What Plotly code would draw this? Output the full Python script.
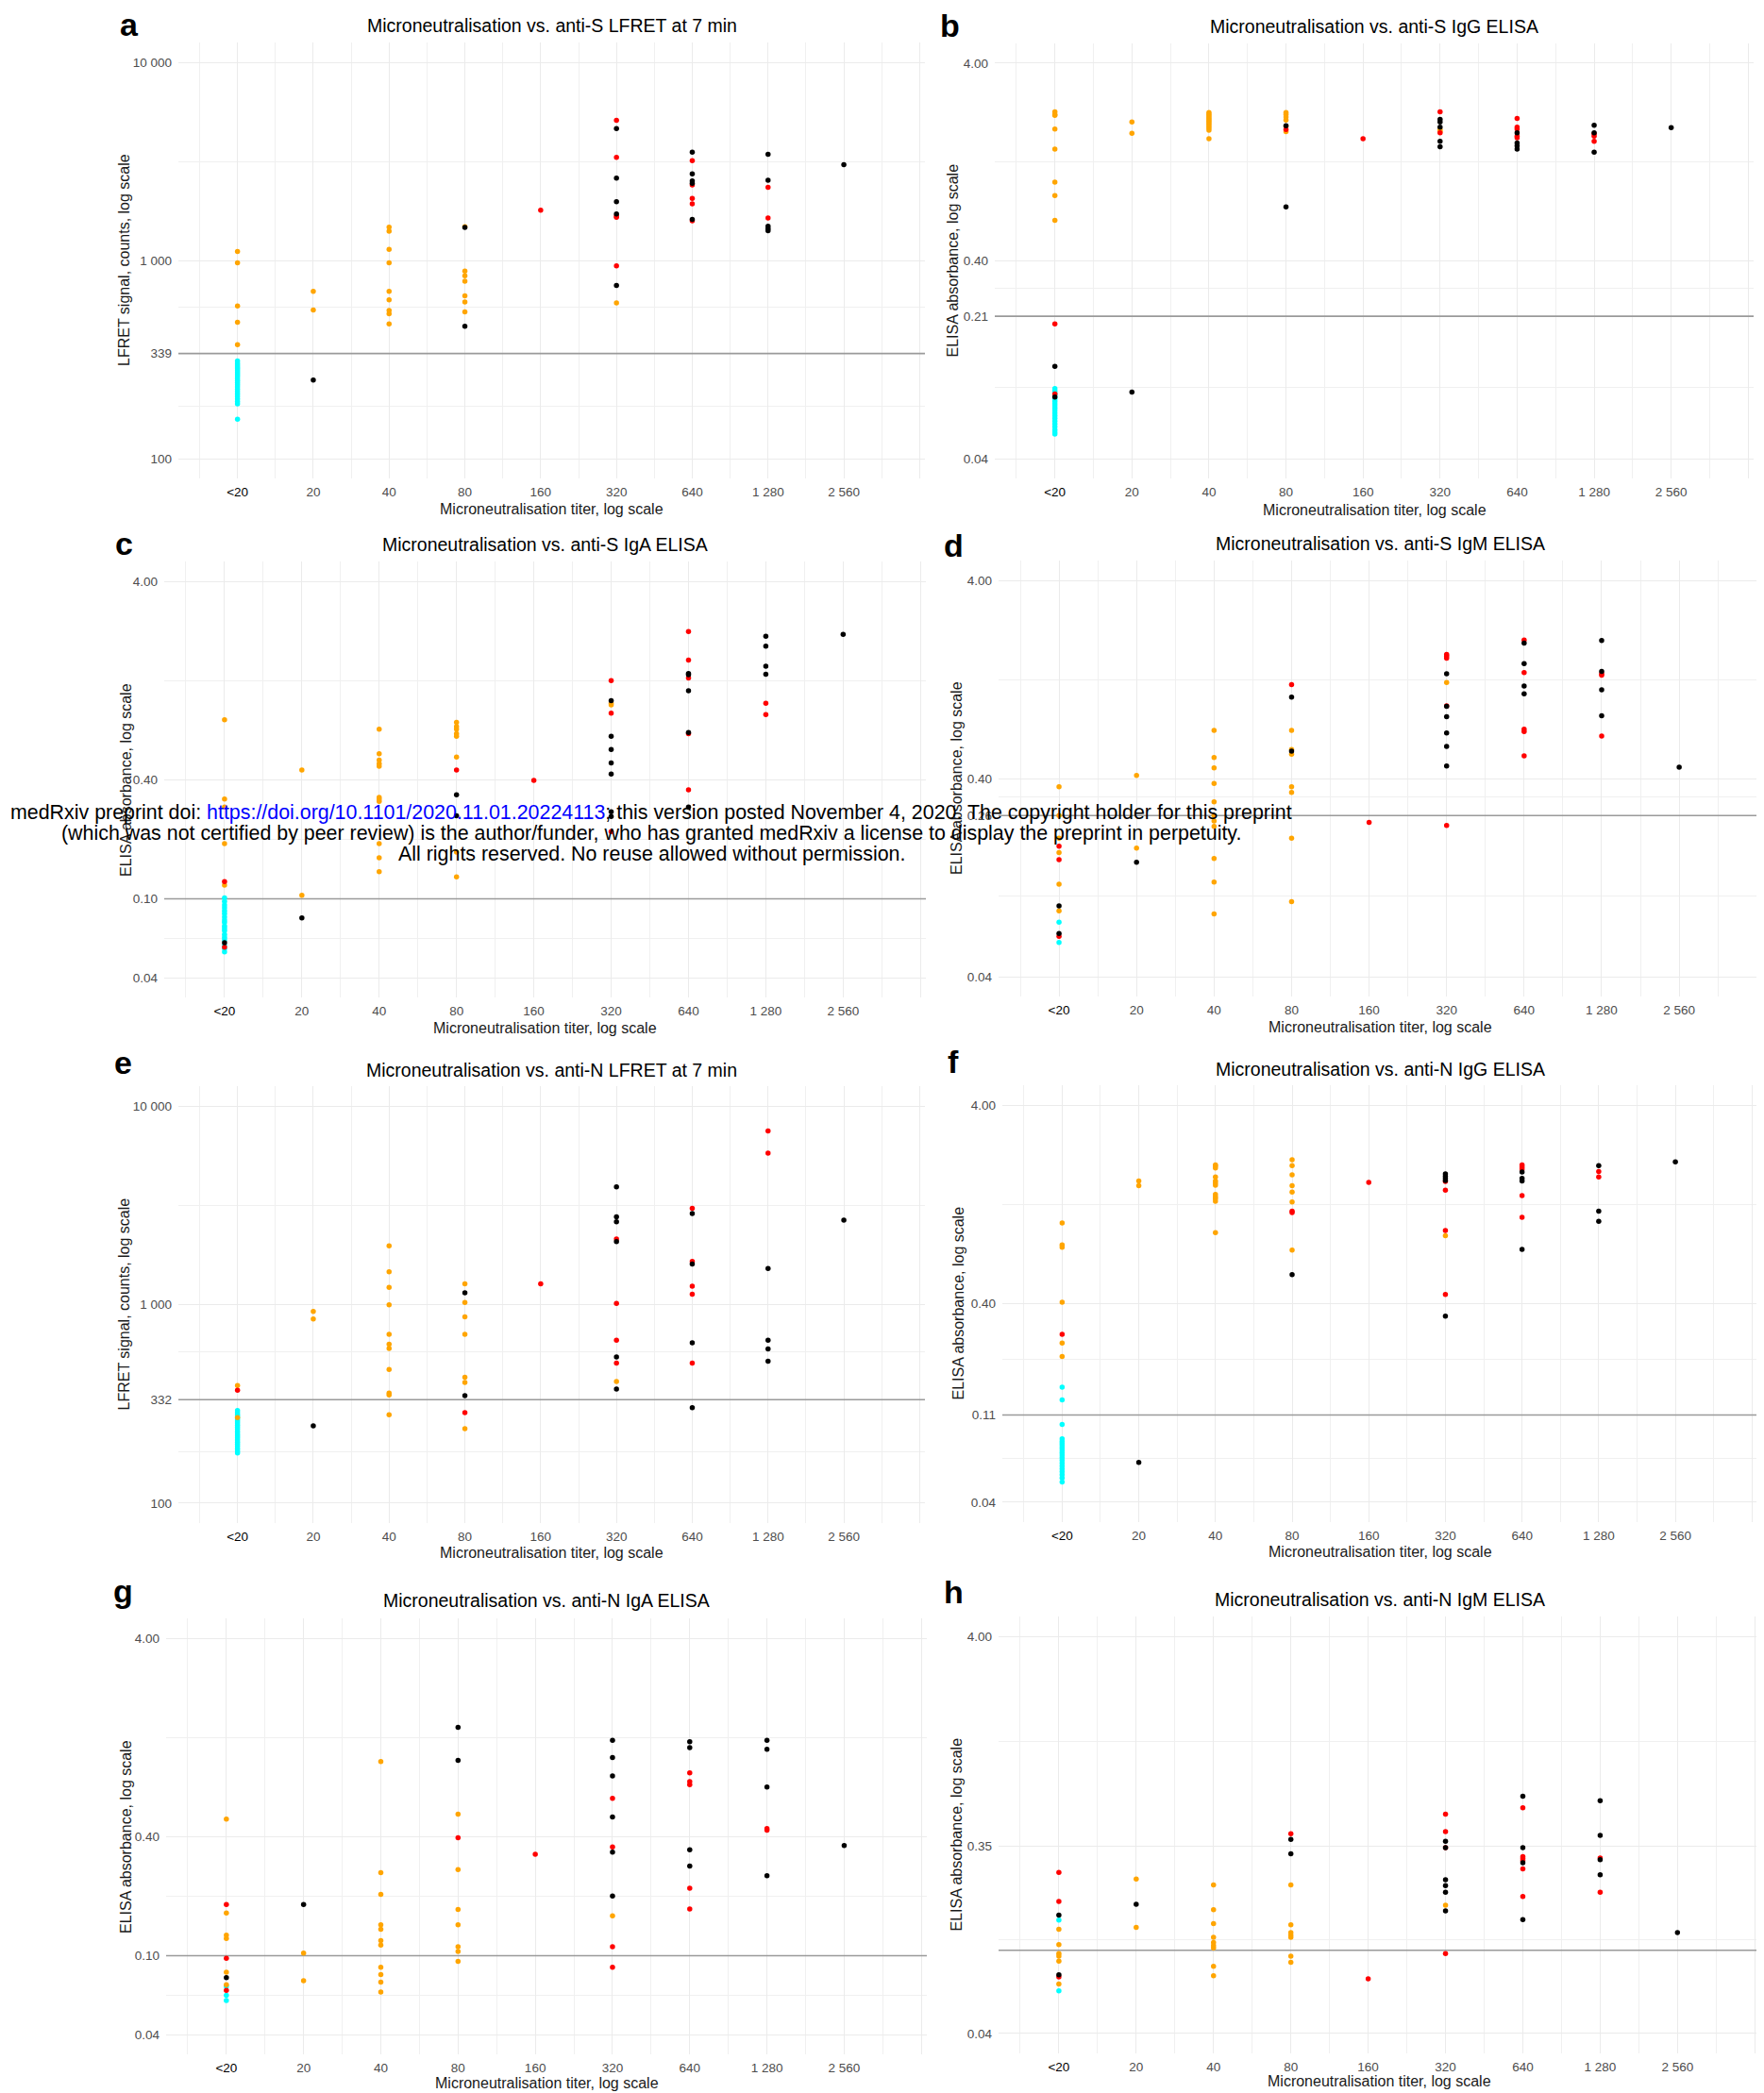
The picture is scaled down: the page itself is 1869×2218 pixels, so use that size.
import math
import plotly.graph_objects as go

W, H = 1869, 2218
OFF = 8  # default page margin of the html body
FONT = "Liberation Sans, Arial, sans-serif"

TITERS = [10, 20, 40, 80, 160, 320, 640, 1280, 2560, 5120]
TITER_LABELS = ['<span style="color:#000000">&lt;20</span>', "20", "40", "80", "160", "320", "640",
                "1 280", "2 560", ""]

# ---------------- panel a: anti-S LFRET ----------------
A_CYAN = [(10, 311), (10, 303), (10, 296), (10, 290), (10, 284), (10, 278), (10, 272), (10, 266), (10, 260),
          (10, 254), (10, 248), (10, 242), (10, 236), (10, 230), (10, 224), (10, 218), (10, 212), (10, 206),
          (10, 200), (10, 194), (10, 189), (10, 158)]
A_ORANGE = [(10, 1111), (10, 972), (10, 589), (10, 487), (10, 376), (20, 698), (20, 562),
            (40, 1472), (40, 1406), (40, 1138), (40, 972), (40, 698), (40, 632), (40, 560), (40, 538), (40, 479),
            (80, 1480), (80, 883), (80, 836), (80, 785), (80, 663), (80, 618), (80, 550), (320, 611)]
A_RED = [(160, 1791), (320, 5094), (320, 3311), (320, 1676), (320, 1650), (320, 940),
         (640, 3187), (640, 2403), (640, 2056), (640, 1932), (640, 1587), (1280, 2339), (1280, 1638)]
A_BLACK = [(20, 249), (80, 1468), (80, 466), (320, 4624), (320, 2600), (320, 1977), (320, 1718), (320, 748),
           (640, 3515), (640, 2735), (640, 2518), (640, 2450), (640, 1612),
           (1280, 3435), (1280, 2541), (1280, 1487), (1280, 1446), (1280, 1413), (2560, 3041)]

# ---------------- panel b: anti-S IgG ELISA ----------------
B_CYAN = [(10, 0.0904), (10, 0.088), (10, 0.086), (10, 0.084), (10, 0.082), (10, 0.080), (10, 0.078),
          (10, 0.076), (10, 0.074), (10, 0.072), (10, 0.070), (10, 0.068), (10, 0.066), (10, 0.064),
          (10, 0.062), (10, 0.060), (10, 0.058), (10, 0.056), (10, 0.0545), (10, 0.0532)]
B_ORANGE = [(10, 2.27), (10, 2.20), (10, 2.18), (10, 1.86), (10, 1.47), (10, 1.00), (10, 0.857), (10, 0.641),
            (20, 2.02), (20, 1.77),
            (40, 2.25), (40, 2.20), (40, 2.16), (40, 2.12), (40, 2.08), (40, 2.04), (40, 2.00), (40, 1.96),
            (40, 1.92), (40, 1.88), (40, 1.83), (40, 1.66),
            (80, 2.25), (80, 2.20), (80, 2.14), (80, 2.06), (80, 1.92), (80, 1.80), (320, 1.84), (320, 1.80)]
B_RED = [(10, 0.192), (10, 0.085), (80, 1.85), (160, 1.66), (320, 2.27), (320, 1.78),
         (640, 2.10), (640, 1.90), (640, 1.86), (640, 1.71), (640, 1.68), (1280, 1.76), (1280, 1.71), (1280, 1.61)]
B_BLACK = [(10, 0.117), (10, 0.082), (20, 0.0869), (80, 1.93), (80, 0.75),
           (320, 2.08), (320, 2.02), (320, 1.90), (320, 1.61), (320, 1.51),
           (640, 1.78), (640, 1.58), (640, 1.53), (640, 1.47), (1280, 1.94), (1280, 1.78), (1280, 1.42), (2560, 1.89)]

# ---------------- panel c: anti-S IgA ELISA ----------------
C_CYAN = [(10, 0.101), (10, 0.097), (10, 0.093), (10, 0.090), (10, 0.087), (10, 0.084), (10, 0.081), (10, 0.078),
          (10, 0.076), (10, 0.073), (10, 0.071), (10, 0.069), (10, 0.066), (10, 0.064), (10, 0.062), (10, 0.058),
          (10, 0.056), (10, 0.054)]
C_ORANGE = [(10, 0.80), (10, 0.319), (10, 0.29), (10, 0.19), (10, 0.117), (20, 0.446), (20, 0.104),
            (40, 0.718), (40, 0.540), (40, 0.501), (40, 0.48), (40, 0.467), (40, 0.325), (40, 0.318), (40, 0.31),
            (40, 0.19), (40, 0.161), (40, 0.137),
            (80, 0.776), (80, 0.74), (80, 0.718), (80, 0.68), (80, 0.66), (80, 0.519), (80, 0.172), (80, 0.129),
            (320, 0.97), (320, 0.95)]
C_RED = [(10, 0.122), (10, 0.057), (80, 0.446), (160, 0.396), (320, 1.26), (320, 0.863), (320, 0.218),
         (640, 2.23), (640, 1.60), (640, 1.30), (640, 0.68), (640, 0.355), (1280, 0.97), (1280, 0.85)]
C_BLACK = [(10, 0.060), (20, 0.080), (80, 0.335), (80, 0.262),
           (320, 1.00), (320, 0.661), (320, 0.567), (320, 0.485), (320, 0.426), (320, 0.275), (320, 0.26),
           (640, 1.37), (640, 1.35), (640, 1.12), (640, 0.69), (640, 0.29),
           (1280, 2.11), (1280, 1.88), (1280, 1.49), (1280, 1.36), (2560, 2.16)]

# ---------------- panel d: anti-S IgM ELISA ----------------
D_CYAN = [(10, 0.0754), (10, 0.0596)]
D_ORANGE = [(10, 0.363), (10, 0.26), (10, 0.200), (10, 0.169), (10, 0.117), (10, 0.086), (20, 0.415), (20, 0.178),
            (40, 0.70), (40, 0.51), (40, 0.453), (40, 0.378), (40, 0.305), (40, 0.26), (40, 0.244), (40, 0.229),
            (40, 0.158), (40, 0.120), (40, 0.083),
            (80, 0.70), (80, 0.56), (80, 0.53), (80, 0.363), (80, 0.34), (80, 0.200), (80, 0.0957), (320, 1.22)]
D_RED = [(10, 0.182), (10, 0.156), (10, 0.064), (80, 1.19), (160, 0.24),
         (320, 1.69), (320, 1.66), (320, 1.62), (320, 0.93), (320, 0.232),
         (640, 2.00), (640, 1.37), (640, 0.71), (640, 0.69), (640, 0.521), (1280, 1.35), (1280, 1.33), (1280, 0.656)]
D_BLACK = [(10, 0.091), (10, 0.066), (20, 0.151), (80, 1.03), (80, 0.55),
           (320, 1.35), (320, 0.925), (320, 0.82), (320, 0.678), (320, 0.58), (320, 0.462),
           (640, 1.93), (640, 1.52), (640, 1.17), (640, 1.07),
           (1280, 1.99), (1280, 1.39), (1280, 1.12), (1280, 0.83), (2560, 0.456)]

# ---------------- panel e: anti-N LFRET ----------------
E_CYAN = [(10, 293), (10, 286), (10, 279), (10, 272), (10, 265), (10, 259), (10, 253), (10, 247), (10, 241),
          (10, 235), (10, 229), (10, 223), (10, 218), (10, 213), (10, 208), (10, 203), (10, 198), (10, 193),
          (10, 188), (10, 183), (10, 179)]
E_ORANGE = [(10, 391), (10, 270), (20, 923), (20, 847),
            (40, 1977), (40, 1463), (40, 1222), (40, 998), (40, 708), (40, 632), (40, 601), (40, 471), (40, 359),
            (40, 351), (40, 279),
            (80, 1271), (80, 1026), (80, 867), (80, 708), (80, 431), (80, 405), (80, 237), (320, 410)]
E_RED = [(10, 370), (80, 286), (160, 1271), (320, 2138), (320, 1014), (320, 662), (320, 508),
         (640, 3050), (640, 1650), (640, 1237), (640, 1127), (640, 508), (1280, 7487), (1280, 5790)]
E_BLACK = [(20, 245), (80, 1145), (80, 348), (320, 3917), (320, 2767), (320, 2612), (320, 2075), (320, 545),
           (320, 376), (640, 2875), (640, 1600), (640, 642), (640, 303),
           (1280, 1521), (1280, 662), (1280, 598), (1280, 518), (2560, 2660)]

# ---------------- panel f: anti-N IgG ELISA ----------------
F_CYAN = [(10, 0.152), (10, 0.131), (10, 0.0986), (10, 0.0834), (10, 0.081), (10, 0.079), (10, 0.077), (10, 0.075),
          (10, 0.073), (10, 0.071), (10, 0.069), (10, 0.067), (10, 0.065), (10, 0.063), (10, 0.061), (10, 0.059),
          (10, 0.057), (10, 0.055), (10, 0.053), (10, 0.0506)]
F_ORANGE = [(10, 1.02), (10, 0.79), (10, 0.77), (10, 0.407), (10, 0.253), (10, 0.217), (20, 1.66), (20, 1.57),
            (40, 2.0), (40, 1.97), (40, 1.93), (40, 1.74), (40, 1.66), (40, 1.62), (40, 1.58), (40, 1.42),
            (40, 1.38), (40, 1.35), (40, 1.31), (40, 0.912),
            (80, 2.12), (80, 1.98), (80, 1.78), (80, 1.57), (80, 1.46), (80, 1.30), (80, 0.745), (320, 0.88)]
F_RED = [(10, 0.280), (80, 1.17), (80, 1.15), (160, 1.63), (320, 1.65), (320, 1.49), (320, 0.934), (320, 0.445),
         (640, 2.0), (640, 1.95), (640, 1.9), (640, 1.40), (640, 1.09), (1280, 1.85), (1280, 1.74)]
F_BLACK = [(20, 0.0634), (80, 0.56), (320, 1.80), (320, 1.75), (320, 1.71), (320, 1.67), (320, 0.346),
           (640, 1.84), (640, 1.71), (640, 1.66), (640, 0.75), (1280, 1.98), (1280, 1.17), (1280, 1.04), (2560, 2.07)]

# ---------------- panel g: anti-N IgA ELISA ----------------
G_CYAN = [(10, 0.070), (10, 0.063), (10, 0.0593)]
G_ORANGE = [(10, 0.488), (10, 0.164), (10, 0.127), (10, 0.122), (10, 0.0824), (10, 0.0714), (20, 0.103), (20, 0.0747),
            (40, 0.955), (40, 0.262), (40, 0.204), (40, 0.143), (40, 0.136), (40, 0.119), (40, 0.113), (40, 0.0873),
            (40, 0.0803), (40, 0.0735), (40, 0.0655),
            (80, 0.518), (80, 0.272), (80, 0.171), (80, 0.143), (80, 0.111), (80, 0.105), (80, 0.0936), (320, 0.159)]
G_RED = [(10, 0.181), (10, 0.097), (10, 0.0667), (80, 0.394), (160, 0.325),
         (320, 0.622), (320, 0.354), (320, 0.111), (320, 0.0873),
         (640, 0.836), (640, 0.755), (640, 0.73), (640, 0.219), (640, 0.172), (1280, 0.438), (1280, 0.43)]
G_BLACK = [(10, 0.0774), (20, 0.181), (80, 1.42), (80, 0.966),
           (320, 1.22), (320, 1.0), (320, 0.807), (320, 0.501), (320, 0.333), (320, 0.200),
           (640, 1.2), (640, 1.12), (640, 0.342), (640, 0.283),
           (1280, 1.22), (1280, 1.10), (1280, 0.71), (1280, 0.253), (2560, 0.359)]

# ---------------- panel h: anti-N IgM ELISA ----------------
H_CYAN = [(10, 0.149), (10, 0.0656)]
H_ORANGE = [(10, 0.134), (10, 0.112), (10, 0.101), (10, 0.098), (10, 0.0925), (10, 0.0711), (20, 0.240), (20, 0.137),
            (40, 0.224), (40, 0.168), (40, 0.143), (40, 0.122), (40, 0.115), (40, 0.111), (40, 0.108), (40, 0.0871),
            (40, 0.0782),
            (80, 0.224), (80, 0.141), (80, 0.129), (80, 0.125), (80, 0.122), (80, 0.098), (80, 0.0914), (320, 0.177)]
H_RED = [(10, 0.259), (10, 0.185), (10, 0.077), (80, 0.406), (160, 0.0755),
         (320, 0.509), (320, 0.416), (320, 0.345), (320, 0.101),
         (640, 0.548), (640, 0.311), (640, 0.304), (640, 0.297), (640, 0.270), (640, 0.196), (1280, 0.306), (1280, 0.206)]
H_BLACK = [(10, 0.158), (10, 0.079), (20, 0.179), (80, 0.380), (80, 0.321),
           (320, 0.372), (320, 0.345), (320, 0.238), (320, 0.222), (320, 0.206), (320, 0.166),
           (640, 0.626), (640, 0.345), (640, 0.29), (640, 0.150),
           (1280, 0.595), (1280, 0.398), (1280, 0.30), (1280, 0.252), (2560, 0.129)]

# titles, thresholds and y ticks
TITLES = ["Microneutralisation vs. anti-S LFRET at 7 min", "Microneutralisation vs. anti-S IgG ELISA",
          "Microneutralisation vs. anti-S IgA ELISA", "Microneutralisation vs. anti-S IgM ELISA",
          "Microneutralisation vs. anti-N LFRET at 7 min", "Microneutralisation vs. anti-N IgG ELISA",
          "Microneutralisation vs. anti-N IgA ELISA", "Microneutralisation vs. anti-N IgM ELISA"]
LETTERS = ["a", "b", "c", "d", "e", "f", "g", "h"]
THRESHOLDS = [339, 0.21, 0.10, 0.26, 332, 0.11, 0.10, 0.105]
Y_TICKS = [[100, 339, 1000, 10000], [0.04, 0.21, 0.40, 4.00], [0.04, 0.10, 0.40, 4.00], [0.04, 0.26, 0.40, 4.00],
           [100, 332, 1000, 10000], [0.04, 0.11, 0.40, 4.00], [0.04, 0.10, 0.40, 4.00], [0.04, 0.35, 4.00]]
Y_TICK_LABELS = [["100", "339", "1 000", "10 000"], ["0.04", "0.21", "0.40", "4.00"], ["0.04", "0.10", "0.40", "4.00"],
                 ["0.04", "0.26", "0.40", "4.00"], ["100", "332", "1 000", "10 000"], ["0.04", "0.11", "0.40", "4.00"],
                 ["0.04", "0.10", "0.40", "4.00"], ["0.04", "0.35", "4.00"]]
LFRET_YTITLE = "LFRET signal, counts, log scale"
ELISA_YTITLE = "ELISA absorbance, log scale"
Y_TITLES = [LFRET_YTITLE, ELISA_YTITLE, ELISA_YTITLE, ELISA_YTITLE, LFRET_YTITLE, ELISA_YTITLE, ELISA_YTITLE, ELISA_YTITLE]
X_TITLE = "Microneutralisation titer, log scale"

DATA = [(A_CYAN, A_ORANGE, A_RED, A_BLACK), (B_CYAN, B_ORANGE, B_RED, B_BLACK), (C_CYAN, C_ORANGE, C_RED, C_BLACK),
        (D_CYAN, D_ORANGE, D_RED, D_BLACK), (E_CYAN, E_ORANGE, E_RED, E_BLACK), (F_CYAN, F_ORANGE, F_RED, F_BLACK),
        (G_CYAN, G_ORANGE, G_RED, G_BLACK), (H_CYAN, H_ORANGE, H_RED, H_BLACK)]
GROUP_COLORS = ["#00FFFF", "#FFA500", "#FF0000", "#000000"]

# layout (pixel boxes of each plotting panel in the page: x0, x1, y0, y1)
BOXES = [(189, 980, 45, 507), (1054, 1858, 46, 507), (174, 981, 595, 1057), (1058, 1867, 594, 1056),
         (189, 980, 1151, 1614), (1062, 1862, 1150, 1613), (176, 982, 1715, 2177), (1058, 1865, 1713, 2176)]
TITLE_Y = [27, 28, 577, 576, 1134, 1133, 1696, 1695]
LETTER_POS = [(137, 26), (1007, 27), (131, 576), (1010, 578), (130, 1126), (1010, 1125), (130, 1686), (1010, 1687)]
YTITLE_X = [131, 1009, 133, 1013, 131, 1015, 133, 1013]
XTITLE_Y = [539, 540, 1089, 1088, 1645, 1644, 2207, 2205]

L2 = math.log10(2)
XR = [math.log10(TITERS[0]) - 0.78 * L2, math.log10(2560) + 1.07 * L2]
X_MINOR = [TITERS[0] / math.sqrt(2)] + [math.sqrt(a * b) for a, b in zip(TITERS[:-1], TITERS[1:])]

GRID = "#EBEBEB"
TICK_COLOR = "#4D4D4D"
FW, FH = W - OFF, H - OFF

fig = go.Figure()
annotations = []


def px(x):
    return (x - OFF) / FW


def py(y):
    return 1 - (y - OFF) / FH


for i in range(8):
    n = i + 1
    xa = "x" if n == 1 else f"x{n}"
    ya = "y" if n == 1 else f"y{n}"
    x0, x1, y0, y1 = BOXES[i]
    ticks = Y_TICKS[i]
    lo, hi = math.log10(min(ticks)), math.log10(max(ticks))
    yr = [lo - 0.1, hi + 0.1]
    st = sorted(ticks)
    y_minor = [math.sqrt(a * b) for a, b in zip(st[:-1], st[1:])]

    # threshold line
    fig.add_trace(go.Scatter(x=[10 ** XR[0], 10 ** XR[1]], y=[THRESHOLDS[i], THRESHOLDS[i]], mode="lines",
                             line=dict(color="#9A9A9A", width=1.6), xaxis=xa, yaxis=ya,
                             showlegend=False, hoverinfo="skip", cliponaxis=True))
    for grp, col in zip(DATA[i], GROUP_COLORS):
        fig.add_trace(go.Scatter(x=[p[0] for p in grp], y=[p[1] for p in grp], mode="markers",
                                 marker=dict(color=col, size=5.5, line=dict(width=0)),
                                 xaxis=xa, yaxis=ya, showlegend=False, cliponaxis=False))

    xkey = "xaxis" if n == 1 else f"xaxis{n}"
    ykey = "yaxis" if n == 1 else f"yaxis{n}"
    fig.update_layout(**{
        xkey: dict(domain=[px(x0), px(x1)], anchor=ya, type="log", range=XR,
                   tickmode="array", tickvals=TITERS, ticktext=TITER_LABELS,
                   showgrid=True, gridcolor=GRID, gridwidth=1.3, zeroline=False, showline=False,
                   ticks="", ticklabelstandoff=4,
                   tickfont=dict(family=FONT, size=13.5, color=TICK_COLOR),
                   minor=dict(tickmode="array", tickvals=X_MINOR, showgrid=True, gridcolor="#F0F0F0",
                              gridwidth=1.0, ticks=""),
                   fixedrange=True),
        ykey: dict(domain=[py(y1), py(y0)], anchor=xa, type="log", range=yr,
                   tickmode="array", tickvals=ticks, ticktext=Y_TICK_LABELS[i],
                   showgrid=True, gridcolor=GRID, gridwidth=1.3, zeroline=False, showline=False,
                   ticks="", ticklabelstandoff=6,
                   tickfont=dict(family=FONT, size=13.5, color=TICK_COLOR),
                   minor=dict(tickmode="array", tickvals=y_minor, showgrid=True, gridcolor="#F0F0F0",
                              gridwidth=1.0, ticks=""),
                   fixedrange=True),
    })

    cx = (x0 + x1) / 2
    cy = (y0 + y1) / 2
    annotations.append(dict(x=px(cx), y=py(TITLE_Y[i]), xref="paper", yref="paper", text=TITLES[i],
                            showarrow=False, xanchor="center", yanchor="middle",
                            font=dict(family=FONT, size=19.5, color="#000000")))
    lx, ly = LETTER_POS[i]
    annotations.append(dict(x=px(lx), y=py(ly), xref="paper", yref="paper", text=f"<b>{LETTERS[i]}</b>",
                            showarrow=False, xanchor="center", yanchor="middle",
                            font=dict(family=FONT, size=34, color="#000000")))
    annotations.append(dict(x=px(YTITLE_X[i]), y=py(cy), xref="paper", yref="paper", text=Y_TITLES[i],
                            showarrow=False, xanchor="center", yanchor="middle", textangle=-90,
                            font=dict(family=FONT, size=16, color="#1A1A1A")))
    annotations.append(dict(x=px(cx), y=py(XTITLE_Y[i]), xref="paper", yref="paper", text=X_TITLE,
                            showarrow=False, xanchor="center", yanchor="middle",
                            font=dict(family=FONT, size=16, color="#1A1A1A")))

WATERMARK = [
    'medRxiv preprint doi: <span style="color:#0000FF">https://doi.org/10.1101/2020.11.01.20224113</span>; '
    'this version posted November 4, 2020. The copyright holder for this preprint',
    '(which was not certified by peer review) is the author/funder, who has granted medRxiv a license to display '
    'the preprint in perpetuity.',
    'All rights reserved. No reuse allowed without permission.',
]
WATERMARK_Y = [861, 883, 905]
for t, wy in zip(WATERMARK, WATERMARK_Y):
    annotations.append(dict(x=px(690), y=py(wy), xref="paper", yref="paper", text=t, showarrow=False,
                            xanchor="center", yanchor="middle", font=dict(family=FONT, size=21.4, color="#000000")))

fig.update_layout(width=FW, height=FH, margin=dict(l=0, r=0, t=0, b=0), paper_bgcolor="white",
                  plot_bgcolor="white", showlegend=False, annotations=annotations,
                  font=dict(family=FONT))

fig.write_html("out.html")
